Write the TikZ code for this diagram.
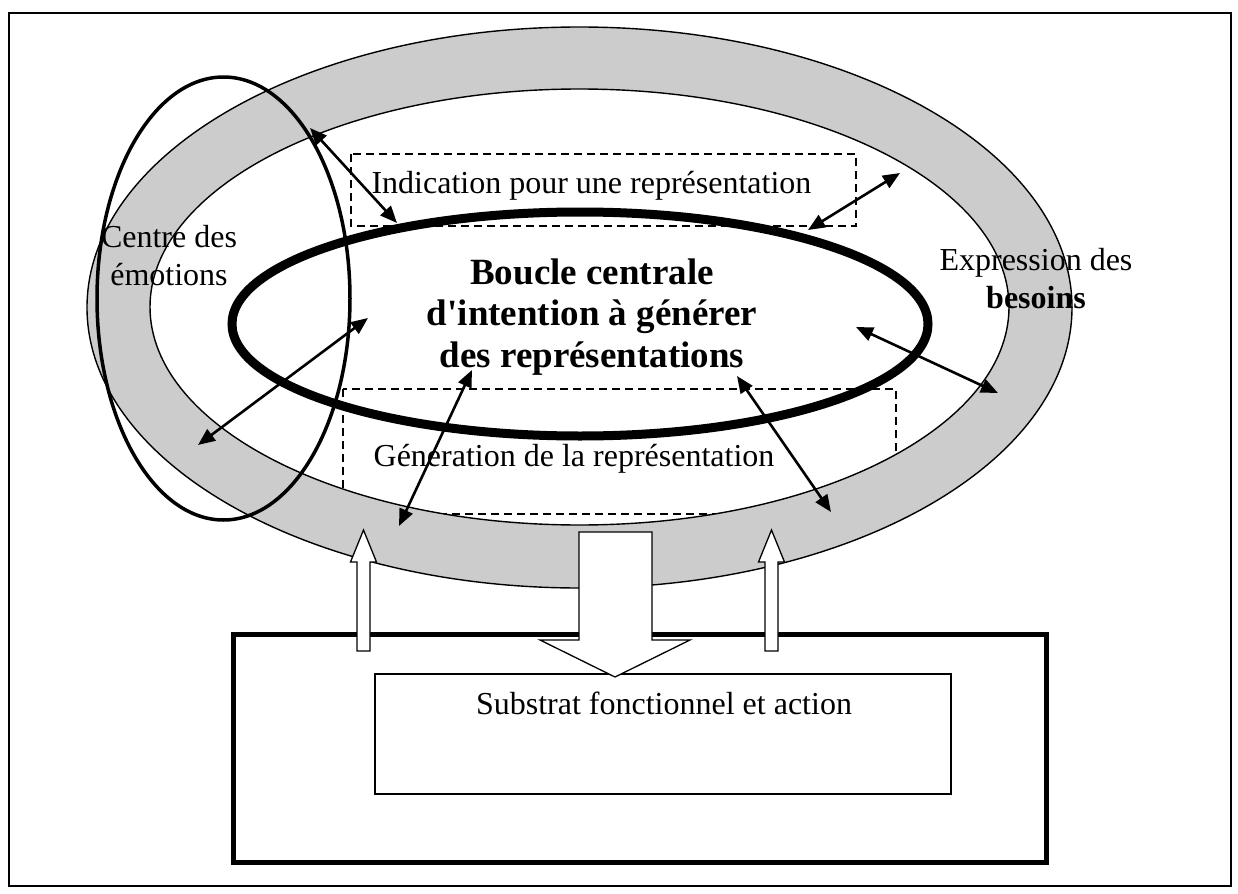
\documentclass[tikz,border=0pt]{standalone}
\usepackage{fontspec}
\setmainfont{Liberation Serif}
\usetikzlibrary{arrows.meta}
\definecolor{ringgray}{RGB}{204,204,204}
\begin{document}
\begin{tikzpicture}[x=0.5pt,y=-0.5pt]
  \tikzstyle{lbl}=[inner sep=0pt, align=center, font=\fontsize{16}{19}\selectfont]
  \tikzstyle{blbl}=[lbl, font=\fontsize{18.5}{20.75}\selectfont\bfseries]
  \tikzstyle{dbl}=[{Triangle[length=8.5pt,width=7pt]}-{Triangle[length=8.5pt,width=7pt]}, line width=1.3pt]
  \tikzstyle{dsh}=[dash pattern=on 4pt off 2.5pt, line width=0.75pt]
  \tikzstyle{hollow}=[draw, fill=white, line width=0.65pt]
  \useasboundingbox (0,0) rectangle (1238,894);
  \draw[line width=1pt] (9,13) rectangle (1231,886);
  \draw[dsh] (351,154) rectangle (856,226);
  \draw[dsh] (343,389) rectangle (896,514);
  \fill[ringgray, even odd rule]
    (579.5,307.5) ellipse [x radius=492.5, y radius=280.5]
    (579.5,307) ellipse [x radius=429.5, y radius=218];
  \draw[line width=0.7pt] (579.5,307.5) ellipse [x radius=492.5, y radius=280.5];
  \draw[line width=0.7pt] (579.5,307) ellipse [x radius=429.5, y radius=218];
  \draw[line width=4.5pt] (580,324) ellipse [x radius=348, y radius=112];
  \draw[line width=1.75pt] (223.5,298.5) ellipse [x radius=126.5, y radius=221.5];
  \node[lbl] (emotions) at (169,256) {Centre des\\émotions};
  \node[lbl] (indication) at (591.5,185.5) {Indication pour une représentation};
  \node[blbl] (boucle) at (592,317)
    {Boucle centrale\\d\textquotesingle intention à générer\\des représentations};
  \node[lbl] (besoins) at (1036,279) {Expression des\\\textbf{besoins}};
  \node[lbl] (generation) at (574,458.5) {Géneration de la représentation};
  \foreach \i/\xa/\ya/\xb/\yb in
    {1/310/128/397/223, 2/900/173/808/230, 3/368/318/198/445,
     4/472/370/399/526, 5/737/376/831/512, 6/856/327/998/393} {
    \coordinate (A-\i) at (\xa,\ya);
    \coordinate (B-\i) at (\xb,\yb);
    \draw[dbl] (A-\i) -- (B-\i);
  }
  \draw[line width=2.5pt] (233,634) rectangle (1046,862);
  \draw[line width=0.6pt] (375,674) rectangle (951,794);
  \node[lbl] (substrat) at (664,703) {Substrat fonctionnel et action};
  \foreach \x in {363.5,771.5}
    \draw[hollow] ({\x-6.5},651) -- ({\x-6.5},562) -- ({\x-13},562) -- (\x,530)
      -- ({\x+13},562) -- ({\x+6.5},562) -- ({\x+6.5},651) -- cycle;
  \draw[hollow] (579,532) -- (652,532) -- (652,640) -- (690,640) -- (615,677)
    -- (540,640) -- (579,640) -- cycle;
\end{tikzpicture}
\end{document}
